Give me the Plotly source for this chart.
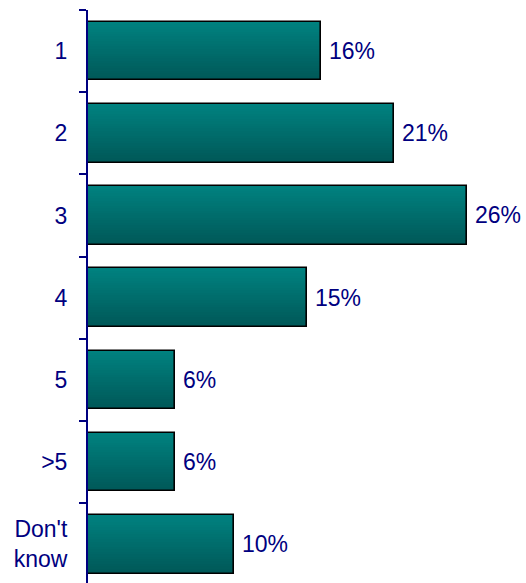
import plotly.graph_objects as go

# Responses by category (percent of respondents)
categories = ["1", "2", "3", "4", "5", ">5", "Don't<br>know"]
values = [16, 21, 26, 15, 6, 6, 10]

BAR_WIDTH = 0.715
N_STRIPS = 24
TOP_RGB = (0, 129, 127)
BOTTOM_RGB = (0, 88, 88)
NAVY = "#000080"
FONT = "Liberation Sans, Arial, sans-serif"
FONT_SIZE = 23

fig = go.Figure()

# Vertical gradient inside each bar, built from thin overlaid strips
step = BAR_WIDTH / N_STRIPS
for i in range(N_STRIPS):
    t = i / (N_STRIPS - 1)
    r = round(TOP_RGB[0] + (BOTTOM_RGB[0] - TOP_RGB[0]) * t)
    g = round(TOP_RGB[1] + (BOTTOM_RGB[1] - TOP_RGB[1]) * t)
    b = round(TOP_RGB[2] + (BOTTOM_RGB[2] - TOP_RGB[2]) * t)
    fig.add_trace(go.Bar(
        x=values, y=categories, orientation="h",
        width=step * 1.6 if i < N_STRIPS - 1 else step,
        offset=-BAR_WIDTH / 2 + i * step,
        marker=dict(color=f"rgb({r},{g},{b})", line=dict(width=0)),
        hoverinfo="skip", showlegend=False,
    ))

# Black outline around each bar
fig.add_trace(go.Bar(
    x=values, y=categories, orientation="h",
    width=BAR_WIDTH,
    marker=dict(color="rgba(0,0,0,0)", line=dict(color="black", width=1.6)),
    showlegend=False,
))

# Value labels just past each bar end (y given as category index)
for idx, val in enumerate(values):
    fig.add_annotation(
        x=val, y=idx, text=f"{val}%", showarrow=False,
        xanchor="left", yanchor="middle", xshift=6,
        font=dict(family=FONT, size=FONT_SIZE, color=NAVY),
    )

fig.update_layout(
    width=526, height=583,
    margin=dict(l=88, r=0, t=10, b=0),
    barmode="overlay",
    bargap=0,
    plot_bgcolor="white",
    paper_bgcolor="white",
    xaxis=dict(visible=False, range=[0, 30.06], fixedrange=True),
    yaxis=dict(
        type="category",
        categoryorder="array", categoryarray=categories,
        range=[6.471, -0.5],
        showline=True, linecolor=NAVY, linewidth=2,
        ticks="outside", tickson="boundaries", ticklen=7,
        tickcolor=NAVY, tickwidth=2,
        ticklabelstandoff=14,
        tickfont=dict(family=FONT, size=FONT_SIZE, color=NAVY),
        showgrid=False, zeroline=False,
    ),
)

fig.write_html("out.html")
